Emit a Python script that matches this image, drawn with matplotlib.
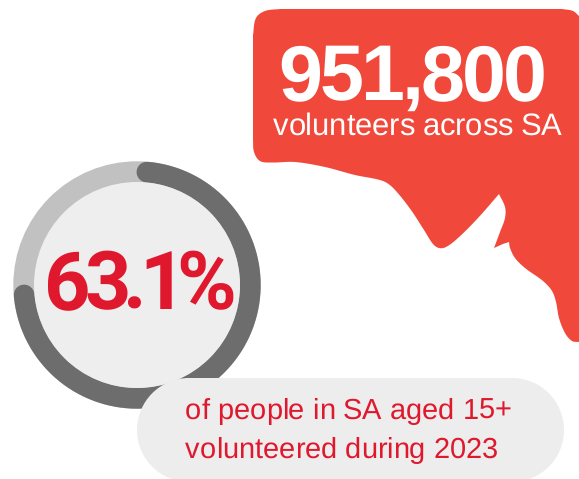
import numpy as np
import matplotlib
matplotlib.use("Agg")
import matplotlib.pyplot as plt
from matplotlib import font_manager
from matplotlib.patches import Circle, PathPatch, Rectangle
from matplotlib.path import Path
from matplotlib.text import Text

plt.rcParams["text.hinting"] = "no_hinting"
plt.rcParams["text.hinting_factor"] = 1

# Figures shown on the graphic
volunteers_label = "951,800"
volunteers_caption = "volunteers across SA"
share_percent = 63.1
share_label = f"{share_percent}%"
share_caption = ["of people in SA aged 15+", "volunteered during 2023"]

# Palette
RED = "#F0483A"
CRIMSON = "#E0182E"
TRACK = "#C1C1C1"
GAUGE = "#6D6D6D"
PALE = "#EDEDED"

# Gauge geometry, in pixels; the sweep uses this many degrees per percent
CX, CY, R_OUT, R_IN = 137.0, 285.0, 123.7, 103.0
GAUGE_START = 5.0
DEG_PER_PERCENT = 4.12

# Outline of the speech-bubble state shape, one smooth run between sharp corners
OUTLINE_RUNS = [
    [(499, 194), (478, 218), (458, 238), (446, 247), (439, 248), (433, 244), (424, 230),
     (411, 210), (396, 191), (387, 183), (378, 179.5), (355, 175), (325, 167), (295, 162),
     (272, 162.5), (260, 161), (254, 152), (253, 140)],
    [(253, 140), (253, 35)],
    [(253, 35), (256, 18), (265, 11), (280, 9)],
    [(280, 9), (562, 9)],
    [(562, 9), (573, 11), (579, 16)],
    [(579, 16), (579, 342)],
    [(579, 342), (572, 341), (565, 333), (559, 318), (556, 302), (552, 291), (543, 281),
     (525, 268), (515, 258), (510, 248), (509, 242)],
    [(509, 242), (503, 244), (494, 248)],
    [(494, 248), (500, 232), (505, 218), (505, 207), (499, 194)],
]


def smooth_run(points, steps=16):
    """Cubic curve through the points, with handles scaled to each chord."""
    pts = np.asarray(points, float)
    if len(pts) < 3:
        return pts
    tangents = np.gradient(pts, axis=0)
    tangents[1:-1] = pts[2:] - pts[:-2]
    tangents /= np.linalg.norm(tangents, axis=1, keepdims=True)
    t = np.linspace(0, 1, steps, endpoint=False)[:, None]
    out = []
    for i in range(len(pts) - 1):
        chord = np.linalg.norm(pts[i + 1] - pts[i])
        c1 = pts[i] + tangents[i] * chord / 3
        c2 = pts[i + 1] - tangents[i + 1] * chord / 3
        out.append((1 - t) ** 3 * pts[i] + 3 * (1 - t) ** 2 * t * c1
                   + 3 * (1 - t) * t ** 2 * c2 + t ** 3 * pts[i + 1])
    return np.vstack(out + [pts[-1:]])


class TrackedText(Text):
    """Single-line text with adjustable spacing after each character."""

    def __init__(self, *args, tracking=0.0, **kwargs):
        super().__init__(*args, **kwargs)
        self.tracking = tracking

    def _advances(self, dpi):
        font = font_manager.get_font(font_manager.findfont(self.get_fontproperties()))
        font.set_size(self.get_fontsize(), dpi)
        chars = self.get_text()
        extra = np.broadcast_to(self.tracking, (len(chars),))
        return [font.load_char(ord(ch)).linearHoriAdvance / 65536 + e
                for ch, e in zip(chars, extra)]

    def draw(self, renderer):
        full = self.get_text()
        x, y = self.get_position()
        pen = x
        for ch, adv in zip(full, self._advances(self.figure.dpi)):
            self.set_text(ch)
            self.set_x(pen)
            super().draw(renderer)
            pen += adv
        self.set_text(full)
        self.set_x(x)

    def get_window_extent(self, renderer=None, dpi=None):
        box = super().get_window_extent(renderer, dpi)
        total = sum(self._advances(self.figure.dpi))
        return type(box).from_extents(box.x0, box.y0, box.x0 + total, box.y1)


fig = plt.figure(figsize=(5.79, 4.79), dpi=100)
ax = fig.add_axes([0, 0, 1, 1])
ax.set_xlim(0, 579)
ax.set_ylim(479, 0)
ax.axis("off")

# State-shaped bubble
runs = [smooth_run(r) for r in OUTLINE_RUNS]
verts = np.vstack([runs[0]] + [r[1:] for r in runs[1:]])
ax.add_patch(PathPatch(Path(verts), facecolor=RED, edgecolor="none", zorder=1))


def add_text(x, y, s, size, color, weight="normal", tracking=0.0, zorder=5,
             family="Liberation Sans"):
    ax.add_artist(TrackedText(x, y, s, fontsize=size, color=color, fontweight=weight,
                              family=family, ha="left", va="baseline",
                              tracking=tracking, zorder=zorder))


add_text(278, 100, volunteers_label, 57, "white", "bold", tracking=-2.8)
add_text(273, 135, volunteers_caption, 22.2, "white", tracking=-0.2)

# Gauge: track, progress arc and centre disc
ax.add_patch(Circle((CX, CY), R_OUT, facecolor=TRACK, edgecolor="none", zorder=2))
theta = np.radians(GAUGE_START + np.linspace(0, share_percent * DEG_PER_PERCENT, 300))
r_mid = (R_OUT + R_IN) / 2
ax.plot(CX + r_mid * np.sin(theta), CY - r_mid * np.cos(theta), color=GAUGE,
        lw=(R_OUT - R_IN) * 72 / fig.dpi, solid_capstyle="round", zorder=3)
ax.add_patch(Circle((CX, CY), R_IN, facecolor="#EEEEEE", edgecolor="none", zorder=4))
add_text(44, 309, share_label, 58, CRIMSON, "bold", tracking=[-6, -9, -6, -10, 0], family="Roboto")

# Caption pill, running off the bottom edge
PILL_R, PILL_Y, PILL_LEFT, PILL_RIGHT = 52, 430, 137, 564
for cx in (PILL_LEFT + PILL_R, PILL_RIGHT - PILL_R):
    ax.add_patch(Circle((cx, PILL_Y), PILL_R, facecolor=PALE, edgecolor="none", zorder=6))
ax.add_patch(Rectangle((PILL_LEFT + PILL_R, PILL_Y - PILL_R), PILL_RIGHT - PILL_LEFT - 2 * PILL_R,
                       2 * PILL_R, facecolor=PALE, edgecolor="none", zorder=6))
add_text(185, 419, share_caption[0], 20.8, CRIMSON, zorder=7)
add_text(185, 458, share_caption[1], 20.8, CRIMSON, zorder=7)

fig.savefig("out.png", dpi=100, facecolor="white")
